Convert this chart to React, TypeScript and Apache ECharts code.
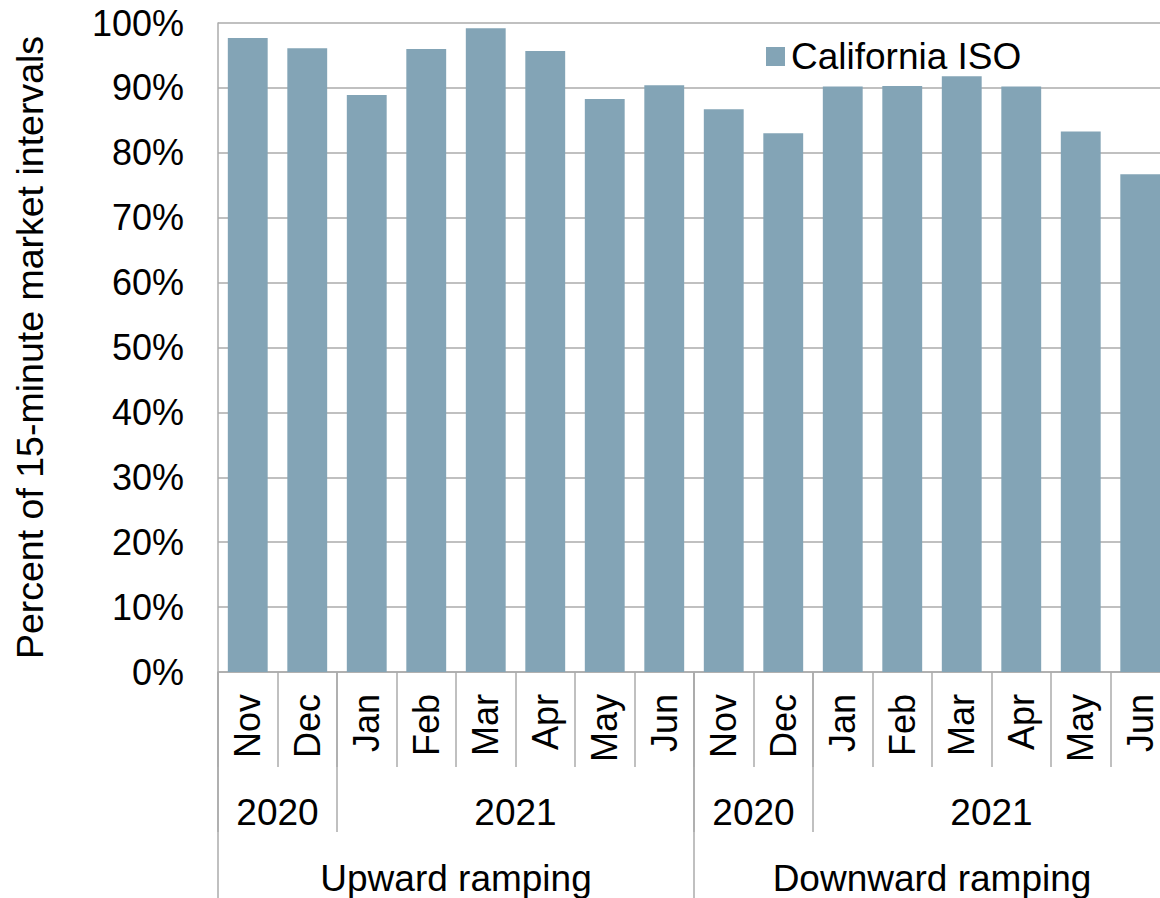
import React, { useEffect, useRef } from "react";
import * as echarts from "echarts";

// Monthly share of 15-minute intervals passing the flexible ramping test
const months = [
  "Nov", "Dec", "Jan", "Feb", "Mar", "Apr", "May", "Jun",
  "Nov", "Dec", "Jan", "Feb", "Mar", "Apr", "May", "Jun",
];
const years = [
  "2020", "2020", "2021", "2021", "2021", "2021", "2021", "2021",
  "2020", "2020", "2021", "2021", "2021", "2021", "2021", "2021",
];
const directions = [
  "Upward ramping", "Upward ramping", "Upward ramping", "Upward ramping",
  "Upward ramping", "Upward ramping", "Upward ramping", "Upward ramping",
  "Downward ramping", "Downward ramping", "Downward ramping", "Downward ramping",
  "Downward ramping", "Downward ramping", "Downward ramping", "Downward ramping",
];
const californiaIso = [
  97.7, 96.1, 88.9, 96.0, 99.2, 95.7, 88.3, 90.4,
  86.7, 83.0, 90.2, 90.3, 91.8, 90.2, 83.3, 76.7,
];
const seriesName = "California ISO";
const yAxisTitle = "Percent of 15-minute market intervals";

const FONT = "'Liberation Sans', Arial, Helvetica, sans-serif";
const GRID_GRAY = "#ABABAB";
const BAR_COLOR = "#83A4B6";

type Span = { label: string; start: number; end: number };

// Collapse runs of equal keys into spans of category indices
function toSpans(keys: string[], labels: string[]): Span[] {
  const out: Span[] = [];
  keys.forEach((k, i) => {
    const last = out[out.length - 1];
    if (last && keys[last.start] === k) {
      last.end = i + 1;
    } else {
      out.push({ label: labels[i], start: i, end: i + 1 });
    }
  });
  return out;
}

export default function App() {
  const ref = useRef<HTMLDivElement>(null);

  useEffect(() => {
    if (!ref.current) return;
    const chart = echarts.init(ref.current, undefined, { renderer: "svg" });
    const n = months.length;

    const yearSpans = toSpans(
      years.map((y, i) => directions[i] + "|" + y),
      years
    );
    const dirSpans = toSpans(directions, directions);

    const yearLabelAt: Record<string, string> = {};
    yearSpans.forEach((s) => (yearLabelAt[String((s.start + s.end) / 2)] = s.label));
    const dirLabelAt: Record<string, string> = {};
    dirSpans.forEach((s) => (dirLabelAt[String((s.start + s.end) / 2)] = s.label));

    const spanAxis = (
      spans: Span[],
      lookup: Record<string, string>,
      tickLen: number,
      labelMargin: number
    ) => ({
      type: "value",
      gridIndex: 0,
      position: "bottom",
      min: 0,
      max: n,
      axisLine: { show: false },
      splitLine: { show: false },
      axisTick: {
        show: true,
        length: tickLen,
        customValues: [...spans.map((s) => s.start), n],
        lineStyle: { color: GRID_GRAY, width: 1.5 },
      },
      axisLabel: {
        show: true,
        customValues: spans.map((s) => (s.start + s.end) / 2),
        formatter: (v: number) => lookup[String(v)] ?? "",
        margin: labelMargin,
        verticalAlign: "middle",
        color: "#000",
        fontSize: 37,
        fontFamily: FONT,
      },
    });

    chart.setOption({
      animation: false,
      backgroundColor: "#fff",
      textStyle: { fontFamily: FONT },
      grid: { left: 218, right: 5, top: 23, bottom: 226, containLabel: false },
      legend: {
        show: true,
        left: 761,
        top: 33,
        icon: "rect",
        itemWidth: 19,
        itemHeight: 19,
        data: [seriesName],
        textStyle: {
          fontSize: 37,
          fontFamily: FONT,
          color: "#000",
          padding: [0, 0, 0, 1],
        },
      },
      xAxis: [
        {
          type: "category",
          data: months,
          boundaryGap: true,
          axisLine: { show: true, lineStyle: { color: GRID_GRAY, width: 1.5 } },
          axisTick: {
            show: true,
            interval: 0,
            length: 95,
            lineStyle: { color: GRID_GRAY, width: 1.5 },
          },
          axisLabel: {
            interval: 0,
            rotate: 90,
            margin: 22,
            color: "#000",
            fontSize: 36,
            fontFamily: FONT,
          },
          splitLine: { show: false },
        },
        spanAxis(yearSpans, yearLabelAt, 160, 140),
        spanAxis(dirSpans, dirLabelAt, 226, 206),
      ],
      yAxis: {
        type: "value",
        min: 0,
        max: 100,
        interval: 10,
        name: yAxisTitle,
        nameLocation: "middle",
        nameGap: 169,
        nameTextStyle: { fontSize: 37.5, fontFamily: FONT, color: "#000" },
        axisLine: { show: true, lineStyle: { color: GRID_GRAY, width: 1.5 } },
        axisTick: { show: false },
        axisLabel: {
          formatter: (v: number) => `${v}%`,
          margin: 34,
          color: "#000",
          fontSize: 36,
          fontFamily: FONT,
        },
        splitLine: { show: true, lineStyle: { color: GRID_GRAY, width: 1.5 } },
      },
      series: [
        {
          name: seriesName,
          type: "bar",
          xAxisIndex: 0,
          yAxisIndex: 0,
          data: californiaIso,
          barCategoryGap: "33%",
          itemStyle: { color: BAR_COLOR },
        },
      ],
    });

    return () => chart.dispose();
  }, []);

  // The plot runs a little past the page's right edge, so the wrapper clips it
  return (
    <div
      style={{
        position: "fixed",
        left: 0,
        top: 0,
        width: 1160,
        height: 898,
        overflow: "hidden",
        background: "#fff",
      }}
    >
      <div ref={ref} style={{ width: 1175, height: 898 }} />
    </div>
  );
}
